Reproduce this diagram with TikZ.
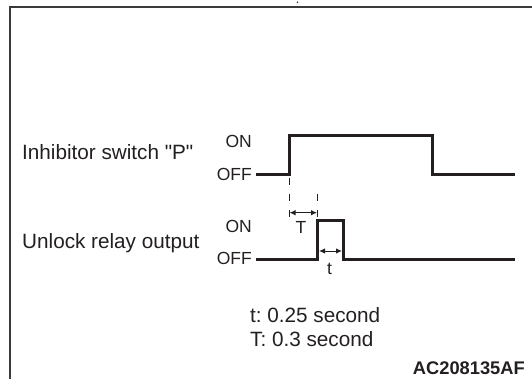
\documentclass[tikz,border=0pt]{standalone}
\usepackage{fontspec}
\setmainfont{Liberation Sans}[Ligatures=TeXOff]
\usetikzlibrary{arrows.meta}
\definecolor{ink}{HTML}{231F20}
\definecolor{framec}{HTML}{3A3A3A}
\frenchspacing
\begin{document}
\begin{tikzpicture}[x=1pt,y=-1pt,
  wave/.style={line width=3pt, draw=ink, line join=miter, line cap=butt},
  dimline/.style={line width=1pt, draw=ink, {Latex[length=6pt,width=5.5pt]}-{Latex[length=6pt,width=5.5pt]}},
  guide/.style={line width=1pt, draw=ink, dash pattern=on 7pt off 9pt},
  frameline/.style={line width=2pt, draw=framec},
  lbl/.style={font=\fontsize{20.7}{24}\selectfont, text=ink, inner sep=0pt},
  statelbl/.style={font=\fontsize{17.5}{20}\selectfont, text=ink, inner sep=0pt},
  codelbl/.style={font=\bfseries\fontsize{18.3}{21}\selectfont, text=ink, inner sep=0pt}]
\useasboundingbox (0,0) rectangle (532,379);
% frame
\coordinate (fbl) at (10.3,379);
\coordinate (ftl) at (10.3,6.7);
\coordinate (ftr) at (532,6.7);
\draw[frameline] (fbl) -- (ftl) -- (ftr);
\fill[framec] (297.5,2.3) circle (0.9);
% labels
\node[lbl, anchor=base west] (inh) at (22,160) {Inhibitor switch "P"};
\node[lbl, anchor=base west] (unl) at (22,248) {Unlock relay output};
\node[statelbl, anchor=east] (on1) at (252,141) {ON};
\node[statelbl, anchor=east] (off1) at (252,174) {OFF};
\node[statelbl, anchor=east] (on2) at (252,226) {ON};
\node[statelbl, anchor=east] (off2) at (252,258) {OFF};
% inhibitor waveform
\coordinate (a0) at (256,174.5);
\coordinate (a1) at (289,174.5);
\coordinate (a2) at (289,135.5);
\coordinate (a3) at (432,135.5);
\coordinate (a4) at (432,174.5);
\coordinate (a5) at (515,174.5);
\draw[wave] (a0) -- (a1) -- (a2) -- (a3) -- (a4) -- (a5);
% unlock waveform
\coordinate (b0) at (256,259);
\coordinate (b1) at (317.5,259);
\coordinate (b2) at (317.5,221);
\coordinate (b3) at (343.5,221);
\coordinate (b4) at (343.5,259);
\coordinate (b5) at (515,259);
\draw[wave] (b0) -- (b1) -- (b2) -- (b3) -- (b4) -- (b5);
% guides
\coordinate (g1s) at (289,178);
\coordinate (g1e) at (289,217);
\coordinate (g2s) at (317.5,194);
\coordinate (g2e) at (317.5,217);
\draw[guide] (g1s) -- (g1e);
\draw[guide] (g2s) -- (g2e);
% T dimension
\coordinate (T1) at (289.5,212.7);
\coordinate (T2) at (317,212.7);
\draw[dimline] (T1) -- (T2);
\node[statelbl] (Tl) at (301,227) {T};
% t dimension
\coordinate (t1) at (319,251);
\coordinate (t2) at (342,251);
\draw[dimline] (t1) -- (t2);
\node[statelbl] (tl) at (329.5,269) {t};
% notes
\node[lbl, anchor=base west] (n1) at (250,322) {t: 0.25 second};
\node[lbl, anchor=base west] (n2) at (250,346) {T: 0.3 second};
\node[codelbl, anchor=base east] (code) at (525,374) {AC208135AF};
\end{tikzpicture}
\end{document}
